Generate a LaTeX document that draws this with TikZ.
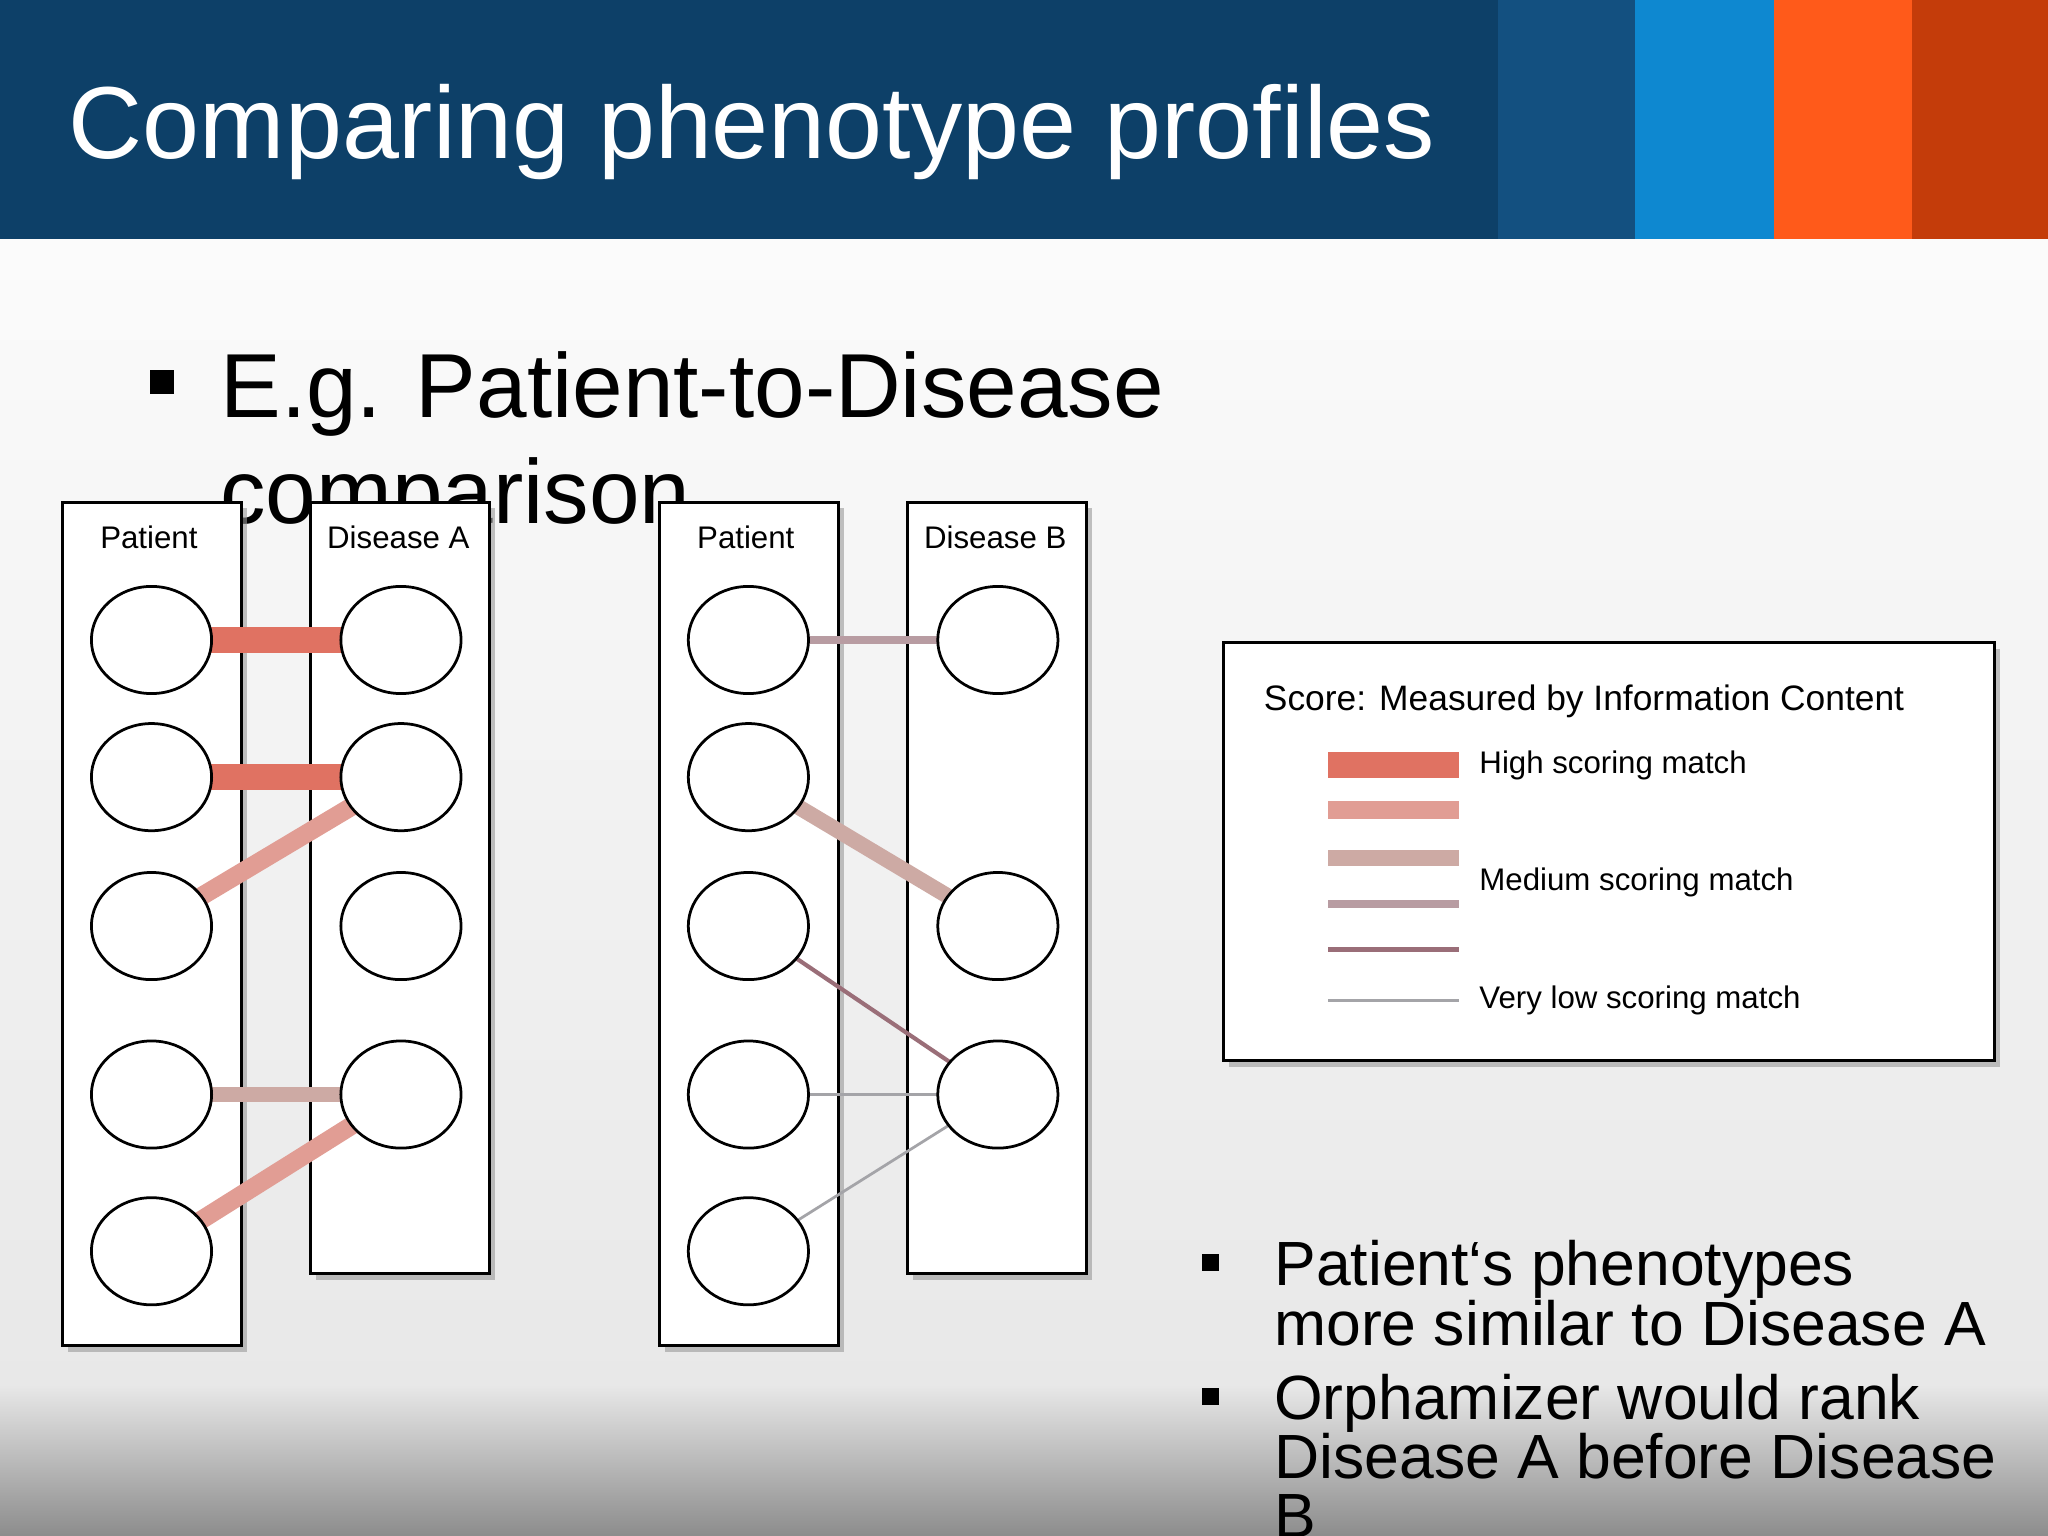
\documentclass[tikz,border=0pt]{standalone}
\usepackage{fontspec}
\setmainfont{Liberation Sans}
\pgfdeclarelayer{bg}\pgfdeclarelayer{mid}
\pgfsetlayers{bg,mid,main}
\definecolor{hdr}{HTML}{0D4068}
\definecolor{hdrb}{HTML}{135080}
\definecolor{hdrc}{HTML}{0E88D0}
\definecolor{hdrd}{HTML}{FF5A1A}
\definecolor{hdre}{HTML}{C43C0A}
\definecolor{chigh}{HTML}{E07262}
\definecolor{cpink}{HTML}{E19D94}
\definecolor{cmed}{HTML}{CDAAA4}
\definecolor{cml}{HTML}{B89CA2}
\definecolor{clow}{HTML}{9A6E78}
\definecolor{cvlow}{HTML}{A4A4A8}
\tikzset{
  col/.style={draw=black,fill=white,line width=0.6pt},
  shad/.style={fill=black!40,opacity=0.6},
  ph/.style={draw=black,fill=white,ellipse,minimum width=0.92cm,minimum height=0.82cm,inner sep=0pt,line width=0.6pt},
  lbl/.style={font=\fontsize{6.8pt}{8pt}\selectfont,anchor=base},
  hi/.style={chigh,line width=5.7pt},
  pk/.style={cpink,line width=4pt},
  md/.style={cmed,line width=3.4pt},
  ml/.style={cml,line width=1.7pt},
  lo/.style={clow,line width=0.9pt},
  vl/.style={cvlow,line width=0.6pt},
  bb/.style={anchor=base west,inner sep=0pt,font=\fontsize{13.6pt}{13pt}\selectfont},
}
\usetikzlibrary{shapes.geometric}
\begin{document}
\begin{tikzpicture}[x=0.01cm,y=-0.01cm]
\useasboundingbox (0,0) rectangle (1568,1176);
\begin{pgfonlayer}{bg}
\shade[top color=white!97!gray,bottom color=black!9] (0,183) rectangle (1568,1062);
\shade[top color=black!9,bottom color=black!45] (0,1060) rectangle (1568,1176);
\fill[hdr] (0,0) rectangle (1147,183);
\fill[hdrb] (1147,0) rectangle (1252,183);
\fill[hdrc] (1252,0) rectangle (1358,183);
\fill[hdrd] (1358,0) rectangle (1464,183);
\fill[hdre] (1464,0) rectangle (1568,183);
\node[anchor=base west,white,inner sep=0pt,font=\fontsize{22.3pt}{28pt}\selectfont] (title) at (52,121) {Comparing phenotype profiles};
\fill (115,283) rectangle (133,302);
\node[anchor=base west,inner sep=0pt,font=\fontsize{19.8pt}{23pt}\selectfont] (eg) at (168,320) {E.g. Patient-to-Disease};
\node[anchor=base west,inner sep=0pt,font=\fontsize{19.8pt}{23pt}\selectfont] (eg2) at (168,401) {comparison};
\foreach \x/\b in {48/1030,238/975,505/1030,695/975}{
  \fill[shad] (\x+4,389) rectangle (\x+141,\b+5);
  \draw[col] (\x,385) rectangle (\x+137,\b);}
\fill[shad] (941,497) rectangle (1531,817);
\draw[col] (937,492) rectangle (1527,812);
\end{pgfonlayer}
\node[lbl] (l1) at (114,420) {Patient};
\node[lbl] (l2) at (305,420) {Disease A};
\node[lbl] (l3) at (571,420) {Patient};
\node[lbl] (l4) at (762,420) {Disease B};
\foreach \y [count=\i] in {490,595,709,838,958}{
  \node[ph] (p\i) at (116,\y) {};
  \node[ph] (q\i) at (573,\y) {};}
\foreach \y [count=\i] in {490,595,709,838}{\node[ph] (a\i) at (307,\y) {};}
\node[ph] (b1) at (764,490) {};
\node[ph] (b2) at (764,709) {};
\node[ph] (b3) at (764,838) {};
\begin{pgfonlayer}{mid}
\draw[hi] (p1.center) -- (a1.center);
\draw[hi] (p2.center) -- (a2.center);
\draw[pk] (p3.center) -- (a2.center);
\draw[md] (p4.center) -- (a4.center);
\draw[pk] (p5.center) -- (a4.center);
\draw[ml] (q1.center) -- (b1.center);
\draw[md] (q2.center) -- (b2.center);
\draw[lo] (q3.center) -- (b3.center);
\draw[vl] (q4.center) -- (b3.center);
\draw[vl] (q5.center) -- (b3.center);
\end{pgfonlayer}
\node[anchor=base west,inner sep=0pt,font=\fontsize{7.7pt}{9pt}\selectfont] (lt) at (967,544) {Score: Measured by Information Content};
\coordinate (s1) at (1017,586); \coordinate (e1) at (1117,586);
\coordinate (s2) at (1017,620); \coordinate (e2) at (1117,620);
\coordinate (s3) at (1017,657); \coordinate (e3) at (1117,657);
\coordinate (s4) at (1017,692); \coordinate (e4) at (1117,692);
\coordinate (s5) at (1017,727); \coordinate (e5) at (1117,727);
\coordinate (s6) at (1017,766); \coordinate (e6) at (1117,766);
\draw[hi] (s1) -- (e1); \draw[pk] (s2) -- (e2); \draw[md] (s3) -- (e3);
\draw[ml] (s4) -- (e4); \draw[lo] (s5) -- (e5); \draw[vl] (s6) -- (e6);
\node[anchor=base west,inner sep=0pt,font=\fontsize{6.8pt}{8pt}\selectfont] (t1) at (1132,592) {High scoring match};
\node[anchor=base west,inner sep=0pt,font=\fontsize{6.8pt}{8pt}\selectfont] (t2) at (1132,682) {Medium scoring match};
\node[anchor=base west,inner sep=0pt,font=\fontsize{6.8pt}{8pt}\selectfont] (t3) at (1132,772) {Very low scoring match};
\fill (920,960) rectangle (933,973);
\fill (920,1063) rectangle (933,1076);
\node[bb] (bt1) at (975,984) {Patient‘s phenotypes};
\node[bb] (bt1b) at (975,1030) {more similar to Disease A};
\node[bb] (bt2) at (975,1087) {Orphamizer would rank};
\node[bb] (bt2b) at (975,1132) {Disease A before Disease};
\node[bb] (bt2c) at (975,1177) {B};
\end{tikzpicture}
\end{document}
